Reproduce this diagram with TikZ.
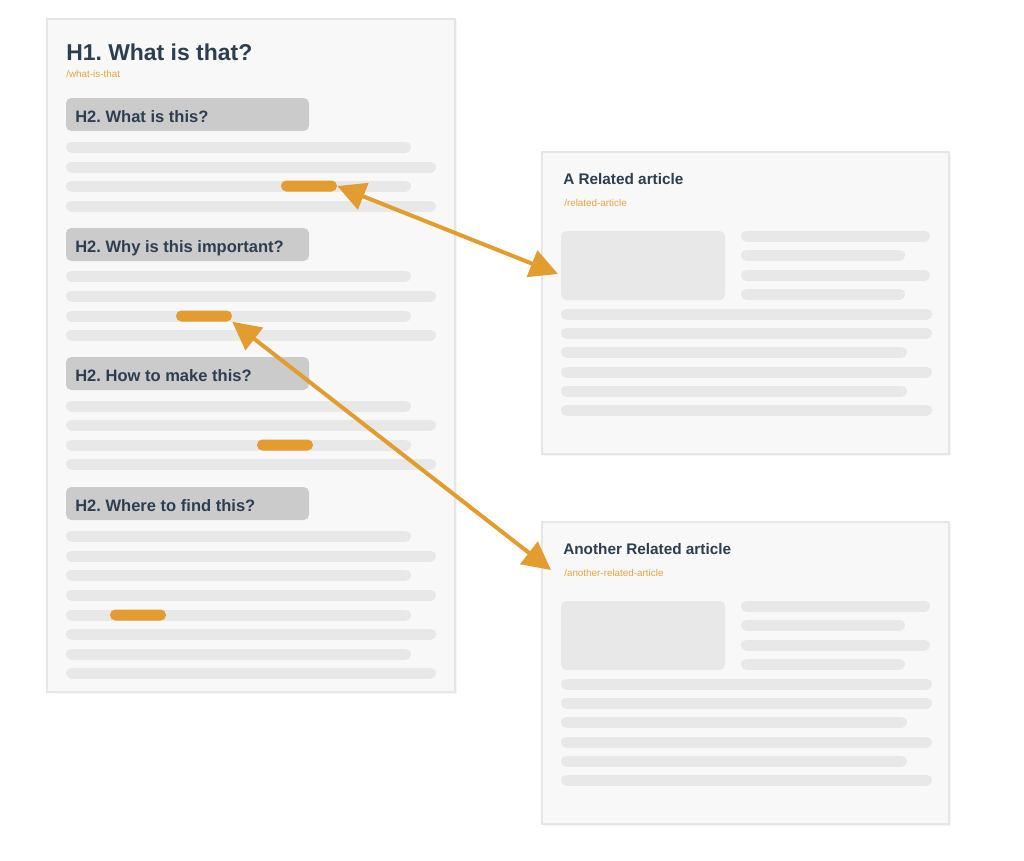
\documentclass[tikz,border=0pt]{standalone}
\usepackage{fontspec}
\setmainfont{Liberation Sans}
\frenchspacing
\usetikzlibrary{arrows.meta}
\definecolor{orng}{HTML}{E39C2F}
\definecolor{slugc}{HTML}{E8A33D}
\definecolor{ink}{HTML}{2D3E50}
\definecolor{cardfill}{HTML}{F8F8F8}
\definecolor{cardline}{HTML}{E6E6E6}
\definecolor{bargray}{HTML}{E8E8E8}
\definecolor{h2gray}{HTML}{CBCBCB}
\begin{document}
\begin{tikzpicture}[x=0.75pt,y=-0.75pt,
  card/.style={draw=cardline, line width=0.8pt, fill=cardfill, rectangle, inner sep=0pt},
  shade/.style={fill=black!4, draw=none, rectangle, inner sep=0pt},
  bar/.style={draw=bargray, line width=8.25pt, line cap=round},
  hl/.style={fill=orng, rectangle, rounded corners=4pt, minimum width=42pt, minimum height=8.25pt, inner sep=0pt},
  h2box/.style={fill=h2gray, rectangle, rounded corners=4pt, minimum width=182.25pt, minimum height=24.75pt, inner sep=0pt},
  h2text/.style={anchor=base west, inner sep=0pt, text=ink, font=\bfseries\fontsize{12.4pt}{14pt}\selectfont},
  h1text/.style={anchor=base west, inner sep=0pt, text=ink, font=\bfseries\fontsize{17.2pt}{20pt}\selectfont},
  ctitle/.style={anchor=base west, inner sep=0pt, text=ink, font=\bfseries\fontsize{11.5pt}{13pt}\selectfont},
  slug/.style={anchor=base west, inner sep=0pt, text=slugc, font=\fontsize{7.4pt}{9pt}\selectfont},
  imgbox/.style={fill=bargray, rectangle, rounded corners=4pt, minimum width=123pt, minimum height=51.75pt, inner sep=0pt},
  arr/.style={draw=orng, line width=3pt, {Triangle[length=21pt,width=21pt]}-{Triangle[length=21pt,width=21pt]}}
]
\useasboundingbox[fill=white] (0,0) rectangle (1024,860);

% ---------- left card ----------
\node[shade, minimum width=306pt, minimum height=504.75pt] (mainshadow) at (252.5,357.5) {};
\node[card, minimum width=306pt, minimum height=504.75pt] (main) at (251,355.5) {};
\node[h1text] (h1) at (66,60) {H1. What is that?};
\node[slug] (h1slug) at (66,77) {/what-is-that};

\node[h2box] (b1) at (187.5,114.5) {};
\node[h2text] (t1) at (75,122) {H2. What is this?};
\node[h2box] (b2) at (187.5,244.5) {};
\node[h2text] (t2) at (75,252) {H2. Why is this important?};
\node[h2box] (b3) at (187.5,373.5) {};
\node[h2text] (t3) at (75,381) {H2. How to make this?};
\node[h2box] (b4) at (187.5,503.5) {};
\node[h2text] (t4) at (75,511) {H2. Where to find this?};

% text bars: short = 66..411, long = 66..436
\foreach \y in {147,186,276,316,406,445,536,575,615,654}
  \draw[bar] (71.5,\y) -- (405.5,\y);
\foreach \y in {167,206,296,335,425,464,556,595,634,673}
  \draw[bar] (71.5,\y) -- (430.5,\y);

\node[hl] (hl1) at (309,186) {};
\node[hl] (hl2) at (204,316) {};
\node[hl] (hl3) at (285,445) {};
\node[hl] (hl4) at (138,615) {};

% ---------- right cards ----------
\foreach \dy/\n/\ttl/\slg in {0/1/A Related article/related-article, 370/2/Another Related article/another-related-article}{
  \node[shade, minimum width=305.25pt, minimum height=226.5pt] (rshadow\n) at (747,305+\dy) {};
  \node[card, minimum width=305.25pt, minimum height=226.5pt] (rcard\n) at (745.5,303+\dy) {};
  \node[ctitle] (rtitle\n) at (563,184+\dy) {\ttl};
  \node[slug] (rslug\n) at (564,206+\dy) {/\slg};
  \node[imgbox] (img\n) at (643,265.5+\dy) {};
  \foreach \y in {236,275} \draw[bar] (746.5,\y+\dy) -- (924.5,\y+\dy);
  \foreach \y in {255,294} \draw[bar] (746.5,\y+\dy) -- (899.5,\y+\dy);
  \foreach \y in {314,333,372,410} \draw[bar] (566.5,\y+\dy) -- (926.5,\y+\dy);
  \foreach \y in {352,391} \draw[bar] (566.5,\y+\dy) -- (901.5,\y+\dy);
}

% ---------- arrows ----------
\coordinate (end1) at (558,274);
\coordinate (end2) at (551,570);
\draw[arr] (hl1.east) -- (end1);
\draw[arr] (hl2.south east) -- (end2);
\end{tikzpicture}
\end{document}
